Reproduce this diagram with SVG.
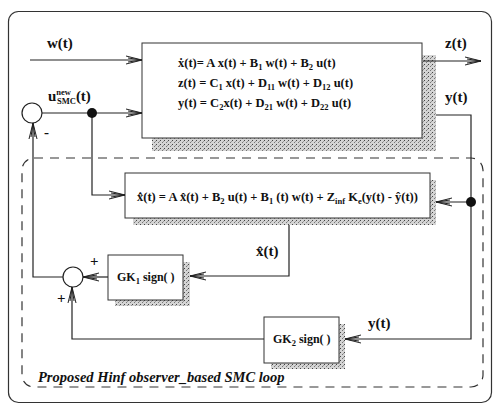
<svg xmlns="http://www.w3.org/2000/svg" width="494" height="405" viewBox="0 0 494 405">
<defs>
<pattern id="stip" width="4" height="4" patternUnits="userSpaceOnUse">
<rect width="4" height="4" fill="#d4d4d4"/>
<rect x="0" y="0" width="1" height="1" fill="#444"/>
<rect x="2" y="2" width="1" height="1" fill="#777"/>
<rect x="3" y="1" width="1" height="1" fill="#999"/>
</pattern>
<marker id="arr" viewBox="0 0 16 10" refX="16" refY="5" markerWidth="16" markerHeight="10" markerUnits="userSpaceOnUse" orient="auto">
<path d="M0,1 L16,5 L0,9 M2,3 L16,5 L2,7" fill="none" stroke="#222" stroke-width="1"/>
</marker>
</defs>
<style>
.box{fill:#fff;stroke:#333;stroke-width:1}
.sh{fill:url(#stip)}
.ln{fill:none;stroke:#222;stroke-width:1.2}
.eq{font-family:"Liberation Serif",serif;font-size:12.5px;font-weight:bold;fill:#111}
.lb{font-family:"Liberation Serif",serif;font-size:15px;font-weight:bold;fill:#111}
.gk{font-family:"Liberation Serif",serif;font-size:12px;font-weight:bold;fill:#111}
.sub{font-size:8.5px}
.cap{font-family:"Liberation Serif",serif;font-size:14.5px;font-weight:bold;font-style:italic;fill:#111}
</style>
<rect x="8.5" y="11.5" width="483" height="391" rx="10" fill="#fff" stroke="#333" stroke-width="1.2"/>
<rect id="loop" x="22" y="158" width="461" height="229" rx="12" fill="none" stroke="#333" stroke-width="1.2" stroke-dasharray="9 7"/>

<g id="plant">
<path class="sh" d="M422,55 H436 V151 H152 V138 H422 Z"/>
<rect class="box" x="142" y="43" width="280" height="95"/>
<text class="eq" x="178" y="67">ẋ(t)= A x(t) + B<tspan class="sub" dy="3">1</tspan><tspan dy="-3"> w(t) + B</tspan><tspan class="sub" dy="3">2</tspan><tspan dy="-3"> u(t)</tspan></text>
<text class="eq" x="178" y="87">z(t) = C<tspan class="sub" dy="3">1</tspan><tspan dy="-3"> x(t) + D</tspan><tspan class="sub" dy="3">11</tspan><tspan dy="-3"> w(t) + D</tspan><tspan class="sub" dy="3">12</tspan><tspan dy="-3"> u(t)</tspan></text>
<text class="eq" x="178" y="107">y(t) = C<tspan class="sub" dy="3">2</tspan><tspan dy="-3">x(t) + D</tspan><tspan class="sub" dy="3">21</tspan><tspan dy="-3"> w(t) + D</tspan><tspan class="sub" dy="3">22</tspan><tspan dy="-3"> u(t)</tspan></text>
</g>

<g id="observer">
<path class="sh" d="M430,180 H436 V225 H133 V218 H430 Z"/>
<rect class="box" x="125" y="173" width="305" height="45"/>
<text class="eq" x="137" y="201">x̂̇(t) = A x̂(t) + B<tspan class="sub" dy="3">2</tspan><tspan dy="-3"> u(t) + B</tspan><tspan class="sub" dy="3">1</tspan><tspan dy="-3"> (t) w(t) + Z</tspan><tspan class="sub" dy="3">inf</tspan><tspan dy="-3"> K</tspan><tspan class="sub" dy="3">e</tspan><tspan dy="-3">(y(t) - ŷ(t))</tspan></text>
</g>

<g id="gk1">
<path class="sh" d="M183,262 H190 V306 H115 V300 H183 Z"/>
<rect class="box" x="108" y="255" width="75" height="45"/>
<text class="gk" x="117" y="281">GK<tspan class="sub" dy="3">1</tspan><tspan dy="-3"> sign( )</tspan></text>
</g>

<g id="gk2">
<path class="sh" d="M339,324 H345 V369 H271 V363 H339 Z"/>
<rect class="box" x="264" y="317" width="75" height="46"/>
<text class="gk" x="273" y="343">GK<tspan class="sub" dy="3">2</tspan><tspan dy="-3"> sign( )</tspan></text>
</g>

<g id="sum1">
<circle cx="32" cy="113" r="10" fill="#fff" stroke="#222" stroke-width="1.2"/>
</g>
<g id="sum2">
<circle cx="73" cy="277" r="10" fill="#fff" stroke="#222" stroke-width="1.2"/>
</g>

<g id="connectors">
<path class="ln" d="M30,60 H142" marker-end="url(#arr)"/>
<path class="ln" d="M423,61 H481" marker-end="url(#arr)"/>
<path class="ln" d="M436,115 H471 V339 H345" marker-end="url(#arr)"/>
<path class="ln" d="M471,202 H436" marker-end="url(#arr)"/>
<path class="ln" d="M42,113 H142" marker-end="url(#arr)"/>
<path class="ln" d="M92,113 V195 H125" marker-end="url(#arr)"/>
<path class="ln" d="M289,225 V276 H190" marker-end="url(#arr)"/>
<path class="ln" d="M108,277 H83" marker-end="url(#arr)"/>
<path class="ln" d="M63,277 H33 V123" marker-end="url(#arr)"/>
<path class="ln" d="M264,339 H72 V287" marker-end="url(#arr)"/>
<circle cx="92" cy="113" r="5" fill="#111"/>
<circle cx="471" cy="202" r="5" fill="#111"/>
</g>

<g id="labels">
<text class="lb" x="47" y="48">w(t)</text>
<text class="lb" x="445" y="48">z(t)</text>
<text class="lb" x="445" y="102">y(t)</text>
<text class="lb" x="48" y="101">u<tspan class="sub" dy="-6">new</tspan><tspan class="sub" dx="-14" dy="9">SMC</tspan><tspan dy="-3">(t)</tspan></text>
<text class="lb" x="44" y="137">-</text>
<text class="lb" x="256" y="256">x̂(t)</text>
<text class="lb" x="368" y="328">y(t)</text>
<text class="lb" x="90" y="266">+</text>
<text class="lb" x="57" y="303">+</text>
<text class="cap" x="38" y="382">Proposed Hinf observer_based SMC loop</text>
</g>
</svg>
